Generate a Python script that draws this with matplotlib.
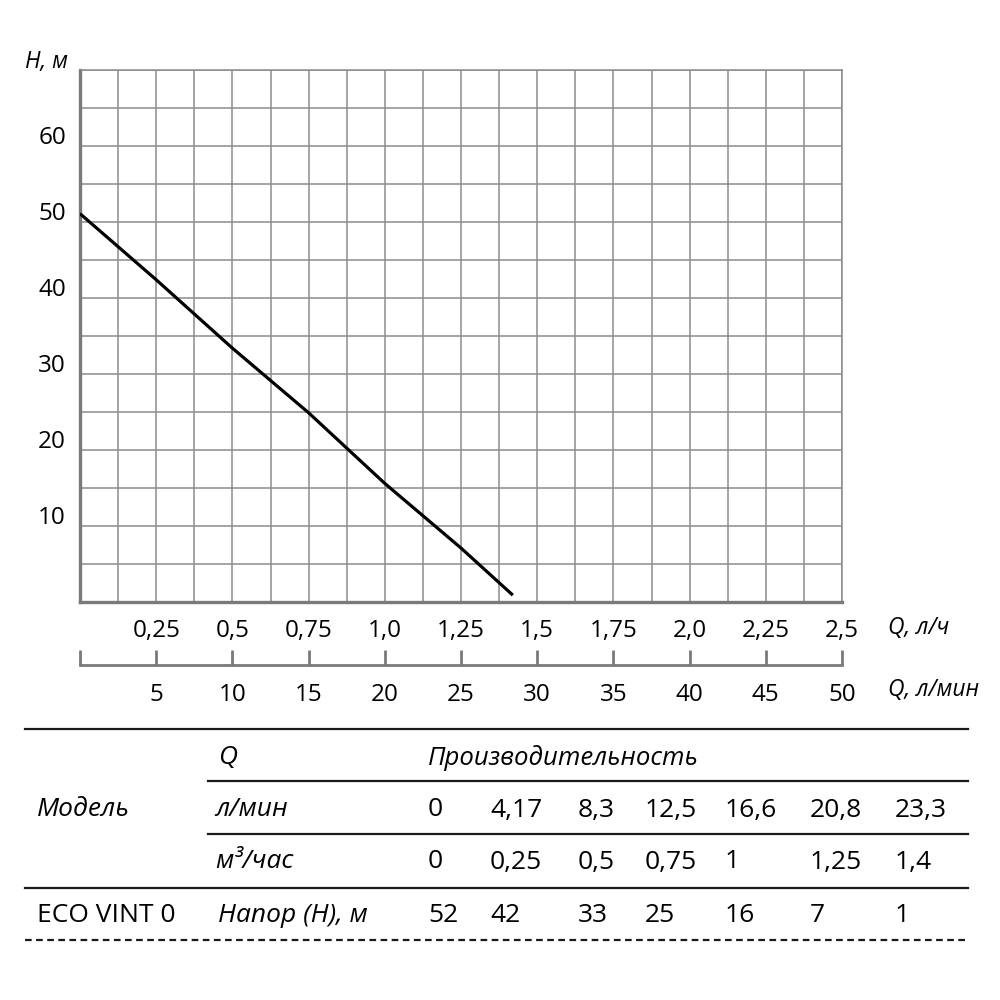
import matplotlib
matplotlib.use("Agg")
import matplotlib.pyplot as plt
from matplotlib.lines import Line2D
import matplotlib.transforms as mtransforms

plt.rcParams['font.family'] = ['Open Sans', 'DejaVu Sans']

# curve as drawn on the chart
curve_q = [0, 0.25, 0.5, 0.75, 1.0, 1.25, 1.42]
curve_h = [51.1, 42.4, 33.4, 24.9, 15.6, 7.1, 0.9]

# table values
q_m3h_lbl = ["0", "0,25", "0,5", "0,75", "1", "1,25", "1,4"]
q_lmin_lbl = ["0", "4,17", "8,3", "12,5", "16,6", "20,8", "23,3"]
head_lbl = ["52", "42", "33", "25", "16", "7", "1"]

x_ticks = [0.25, 0.5, 0.75, 1.0, 1.25, 1.5, 1.75, 2.0, 2.25, 2.5]
x_tick_lbl = ["0,25", "0,5", "0,75", "1,0", "1,25", "1,5", "1,75", "2,0", "2,25", "2,5"]
lmin_ticks = [0, 5, 10, 15, 20, 25, 30, 35, 40, 45, 50]
lmin_tick_lbl = ["", "5", "10", "15", "20", "25", "30", "35", "40", "45", "50"]
y_ticks = [10, 20, 30, 40, 50, 60]

W = 1000.0
gray = "#8c8c8c"
fs_ax = 17.5
fs_it = 16.5
fs_tab = 19

fig = plt.figure(figsize=(10, 10), dpi=100)

# main chart, pixel box 80..842 x 70..602
ax = fig.add_axes([80 / W, 1 - 602 / W, 762 / W, 532 / W])
ax.plot(curve_q, curve_h, color="black", lw=2.3, solid_capstyle="butt", zorder=3)
ax.set_xlim(0, 2.5)
ax.set_ylim(0, 70)
ax.set_xticks(x_ticks)
ax.set_xticklabels(x_tick_lbl, fontsize=fs_ax)
ax.set_xticks([i * 0.125 for i in range(21)], minor=True)
ax.set_yticks(y_ticks)
ax.set_yticklabels([])
ax.set_yticks(range(0, 71, 5), minor=True)
ax.tick_params(which="both", length=0)
ax.tick_params(axis="x", pad=12)
ax.grid(which="both", color=gray, lw=1.1)
for s in ["top", "right"]:
    ax.spines[s].set_color(gray)
    ax.spines[s].set_linewidth(1.1)
for s in ["left", "bottom"]:
    ax.spines[s].set_color("#7a7a7a")
    ax.spines[s].set_linewidth(2.4)

trans = mtransforms.blended_transform_factory(ax.transAxes, ax.transData)
for v in y_ticks:
    ax.text(-14 / 762, v + 0.3, str(v), transform=trans, ha="right", va="baseline",
            fontsize=fs_ax)

fig.text(25 / W, 1 - 62 / W, "H, м", fontsize=fs_it, style="italic", va="center")
fig.text(888 / W, 1 - 628 / W, "Q, л/ч", fontsize=fs_it, style="italic", va="center")
fig.text(888 / W, 1 - 690 / W, "Q, л/мин", fontsize=fs_it, style="italic", va="center")

# second scale, l/min
ax2 = fig.add_axes([80 / W, 1 - 665 / W, 762 / W, 0.0001])
ax2.set_xlim(0, 50)
ax2.set_yticks([])
ax2.set_xticks(lmin_ticks)
ax2.set_xticklabels(lmin_tick_lbl, fontsize=fs_ax)
ax2.tick_params(axis="x", direction="in", length=11, width=2, color="#7a7a7a", pad=13)
for s in ["top", "right", "left"]:
    ax2.spines[s].set_visible(False)
ax2.spines["bottom"].set_color("#7a7a7a")
ax2.spines["bottom"].set_linewidth(2)
ax2.patch.set_visible(False)


# table below
def hline(y, x0, x1, ls="-"):
    fig.add_artist(Line2D([x0 / W, x1 / W], [1 - y / W, 1 - y / W], color="#1a1a1a",
                          lw=1.6, ls=ls))


hline(729, 25, 968)
hline(781, 208, 968)
hline(834, 208, 968)
hline(888, 25, 968)
hline(940, 25, 968, ls=(0, (3, 2)))

fig.text(218 / W, 1 - 758 / W, "Q", fontsize=fs_tab, style="italic", va="center")
fig.text(428 / W, 1 - 758 / W, "Производительность", fontsize=fs_tab - 0.5, style="italic", va="center")
fig.text(37 / W, 1 - 810 / W, "Модель", fontsize=fs_tab, style="italic", va="center")
fig.text(215 / W, 1 - 810 / W, "л/мин", fontsize=fs_tab, style="italic", va="center")
fig.text(215 / W, 1 - 862 / W, "м³/час", fontsize=fs_tab, style="italic", va="center")
fig.text(37 / W, 1 - 916 / W, "ECO VINT 0", fontsize=fs_tab, va="center")
fig.text(218 / W, 1 - 916 / W, "Напор (Н), м", fontsize=fs_tab, style="italic", va="center")

col_x = [428, 490, 578, 645, 725, 810, 895]
for cx, a, b, c in zip(col_x, q_lmin_lbl, q_m3h_lbl, head_lbl):
    fig.text(cx / W, 1 - 810 / W, a, fontsize=fs_tab, va="center")
    fig.text(cx / W, 1 - 862 / W, b, fontsize=fs_tab, va="center")
    fig.text(cx / W, 1 - 916 / W, c, fontsize=fs_tab, va="center")

fig.savefig("out.png", dpi=100)
